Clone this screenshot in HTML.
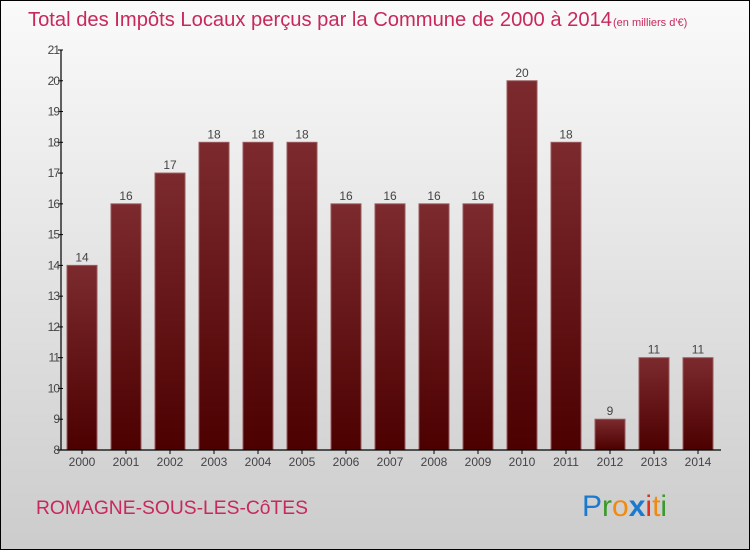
<!DOCTYPE html>
<html><head><meta charset="utf-8"><style>
html,body{margin:0;padding:0}
body{width:750px;height:550px;overflow:hidden;font-family:"Liberation Sans",sans-serif}
#wrap{position:absolute;left:0;top:0;width:748px;height:548px;border:1px solid #000;background:linear-gradient(#fafafa,#cccccc)}
</style></head><body>
<div id="wrap">
<svg id="chart" width="750" height="550" style="position:absolute;left:-1px;top:-1px">
<defs><linearGradient id="bg" x1="0" y1="0" x2="0" y2="1"><stop offset="0" stop-color="#7c2a2e"/><stop offset="1" stop-color="#4c0000"/></linearGradient></defs>
<text x="28" y="26" font-size="20" textLength="584" lengthAdjust="spacingAndGlyphs" fill="#c8285a">Total des Impôts Locaux perçus par la Commune de 2000 à 2014</text>
<text x="613" y="26" font-size="11" fill="#c8285a">(en milliers d'€)</text>
<g id="bars"></g><g id="axes"></g>
<text x="36" y="514" font-size="19" fill="#c8285a" textLength="272" lengthAdjust="spacingAndGlyphs">ROMAGNE-SOUS-LES-CôTES</text>
<g font-size="30" font-family="Liberation Sans, sans-serif">
<text x="582" y="516"><tspan fill="#1a7ad0">P</tspan><tspan fill="#3a9a2a">r</tspan><tspan fill="#f08a10">o</tspan><tspan fill="#1a7ad0" font-weight="bold">x</tspan><tspan fill="#e03020">i</tspan><tspan fill="#f08a10">t</tspan><tspan fill="#3a9a2a">i</tspan></text>
</g>
</svg></div>
<script>
const years=["2000","2001","2002","2003","2004","2005","2006","2007","2008","2009","2010","2011","2012","2013","2014"];
const values=[14,16,17,18,18,18,16,16,16,16,20,18,9,11,11];
const yTicks=[8,9,10,11,12,13,14,15,16,17,18,19,20,21];
const NS="http://www.w3.org/2000/svg";
const x0=61,x1=721,yTop=50,yBot=450,yMin=8,yMax=21;
const step=(x1-x0)/years.length;
function y(v){return yBot-(v-yMin)/(yMax-yMin)*(yBot-yTop);}
function xc(i){return x0+step*(i+0.5)-1;}
function mk(t,a,p){const e=document.createElementNS(NS,t);for(const k in a)e.setAttribute(k,a[k]);p.appendChild(e);return e;}
const bars=document.getElementById('bars'),axes=document.getElementById('axes');
values.forEach((v,i)=>{
 const r=mk('rect',{x:xc(i)-15,y:y(v),width:30,height:yBot-y(v),fill:'url(#bg)',stroke:'#9a5a5c','stroke-width':1},bars);
 
 
 const t=mk('text',{x:xc(i),y:y(v)-4,'font-size':12,fill:'#444','text-anchor':'middle'},bars);t.textContent=v;
 
 
 const l=mk('text',{x:xc(i),y:466,'font-size':12,fill:'#444','text-anchor':'middle'},axes);l.textContent=years[i];
 
 
 mk('line',{x1:xc(i),x2:xc(i),y1:yBot,y2:yBot+4,stroke:'#000'},axes);
});
const ya=mk('line',{x1:x0,x2:x0,y1:yTop,y2:yBot,stroke:'#000','stroke-width':1.2},axes);


const xa=mk('line',{x1:x0-4,x2:x1,y1:yBot,y2:yBot,stroke:'#000','stroke-width':1.2},axes);


yTicks.forEach(v=>{
 mk('line',{x1:x0-3,x2:x0+2,y1:y(v),y2:y(v),stroke:'#000'},axes);
 const t=mk('text',{x:x0-2,y:y(v)+4,'font-size':12,fill:'#444','text-anchor':'end','letter-spacing':'-1'},axes);t.textContent=v;
 
 
});
</script>
</body></html>
